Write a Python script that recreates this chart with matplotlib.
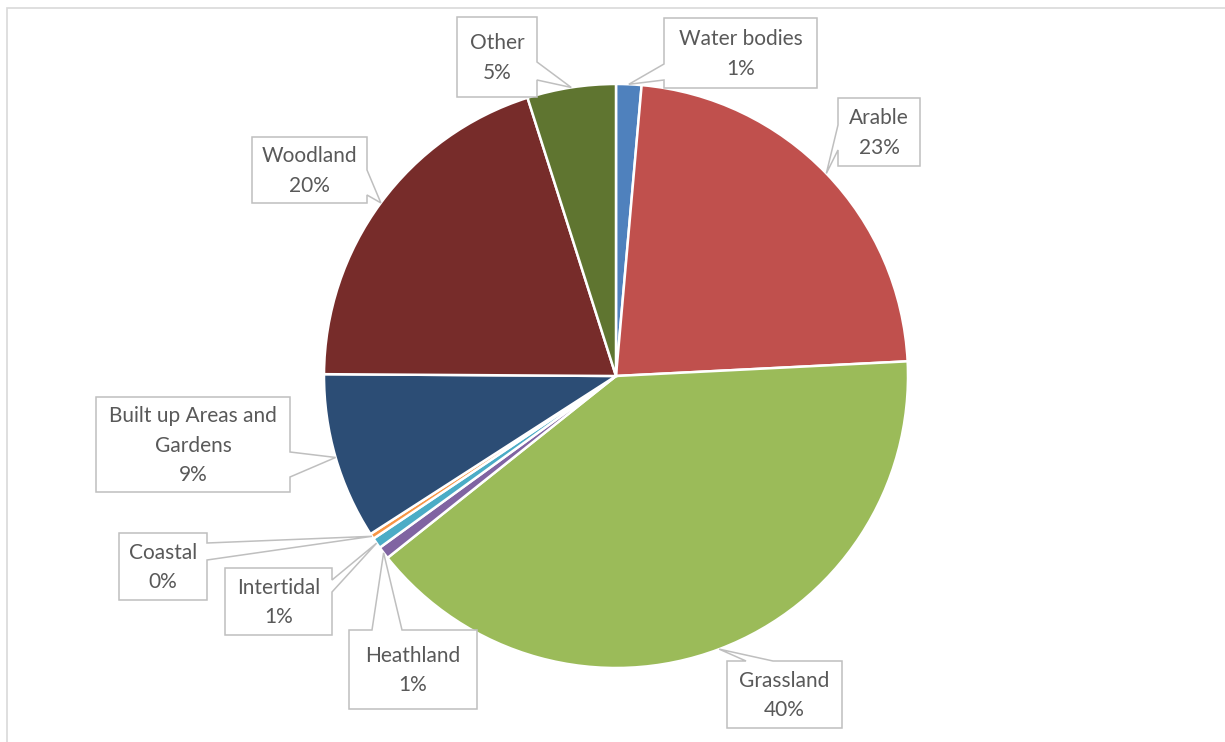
import numpy as np
import matplotlib.pyplot as plt
from matplotlib.patches import Polygon, Rectangle

# data (share of land cover, %)
categories = ['Water bodies', 'Arable', 'Grassland', 'Heathland', 'Intertidal',
              'Coastal', 'Built up Areas and\nGardens', 'Woodland', 'Other']
values = [1.4, 22.8, 40.1, 0.7, 0.6, 0.3, 9.2, 20.0, 4.9]
colors = ['#4F81BD', '#C0504D', '#9BBB59', '#8064A2', '#4BACC6',
          '#F79646', '#2C4D75', '#772C2A', '#5F7530']

W, H = 1225, 742
cx, cy, r = 616, 376, 292   # pie centre / radius in pixels (y down)

# callout boxes: (x0, y0, x1, y1), side of pointer, pointer base along that side
boxes = [
    ((664, 18, 817, 88), 'left', (64, 80)),
    ((838, 98, 920, 166), 'left', (125, 150)),
    ((727, 661, 842, 728), 'top', (746, 773)),
    ((349, 630, 477, 709), 'top', (372, 402)),
    ((225, 568, 332, 635), 'right', (580, 592)),
    ((119, 533, 207, 600), 'right', (543, 560)),
    ((96, 397, 290, 492), 'right', (452, 477)),
    ((252, 137, 367, 203), 'right', (170, 195)),
    ((457, 17, 537, 97), 'right', (62, 80)),
]

fig = plt.figure(figsize=(W / 100, H / 100), dpi=100)
ax = fig.add_axes([0, 0, 1, 1])

ax.pie(values, colors=colors, startangle=90, counterclock=False,
       center=(cx, H - cy), radius=r, frame=True,
       wedgeprops=dict(edgecolor='white', linewidth=1.8))
ax.set_xlim(0, W)
ax.set_ylim(0, H)
ax.axis('off')

# chart area border
ax.add_patch(Rectangle((6.5, -10), W + 10, H - 7.5 + 10, fill=False,
                       edgecolor='#D9D9D9', linewidth=1.2, zorder=0))


def fy(y):
    return H - y


cum = np.cumsum([0] + values)
for i, (lab, v) in enumerate(zip(categories, values)):
    mid = (cum[i] + cum[i + 1]) / 2 / 100 * 2 * np.pi
    tip = (cx + r * np.sin(mid), cy - r * np.cos(mid))
    (x0, y0, x1, y1), side, (a, b) = boxes[i]
    if side == 'top':
        pts = [(x0, y0), (a, y0), tip, (b, y0), (x1, y0), (x1, y1), (x0, y1)]
    elif side == 'right':
        pts = [(x0, y0), (x1, y0), (x1, a), tip, (x1, b), (x1, y1), (x0, y1)]
    elif side == 'bottom':
        pts = [(x0, y0), (x1, y0), (x1, y1), (b, y1), tip, (a, y1), (x0, y1)]
    else:
        pts = [(x0, y0), (x1, y0), (x1, y1), (x0, y1), (x0, b), tip, (x0, a)]
    pts = [(px, fy(py)) for px, py in pts]
    ax.add_patch(Polygon(pts, closed=True, facecolor='white',
                         edgecolor='#BFBFBF', linewidth=1.1, zorder=5))
    ax.text((x0 + x1) / 2, fy((y0 + y1) / 2 + 1), f"{lab}\n{round(v)}%",
            ha='center', va='center', fontsize=15, family='Lato',
            color='#595959', linespacing=1.6, zorder=6)

fig.savefig('out.png', dpi=100)
